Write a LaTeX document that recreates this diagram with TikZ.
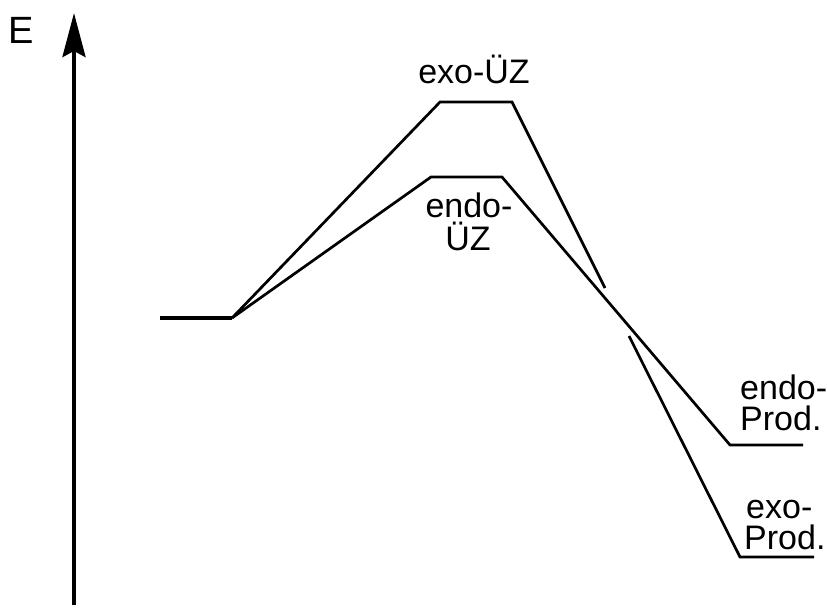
\documentclass[tikz,border=0pt]{standalone}
\usepackage{fontspec}
\setmainfont{Liberation Sans}
\usetikzlibrary{arrows.meta}
\begin{document}
\begin{tikzpicture}[x=1pt,y=-1pt,
  curve/.style={line width=2.7pt},
  lbl/.style={font=\fontsize{34}{34}\selectfont, inner sep=0pt, anchor=base},
  lblL/.style={lbl, anchor=base west}]
\useasboundingbox (0,0) rectangle (827,610);
% axis
\coordinate (ax0) at (74,605);
\coordinate (ax1) at (74,13);
\draw[line width=4pt, -{Stealth[length=44pt,width=23pt,inset=6pt]}] (ax0) -- (ax1);
\node[lbl, anchor=base west, font=\fontsize{38}{38}\selectfont] (E) at (8,44) {E};
% common start
\coordinate (s0) at (160,318);
\coordinate (s1) at (232,318);
\draw[line width=4pt] (s0) -- (s1);
% exo path
\coordinate (xa) at (440,102);
\coordinate (xb) at (512,102);
\coordinate (xg1) at (605,288);
\coordinate (xg2) at (629,336);
\coordinate (xc) at (740,557);
\coordinate (xd) at (814,557);
\draw[curve] (s1) -- (xa) -- (xb) -- (xg1);
\draw[curve] (xg2) -- (xc) -- (xd);
% endo path
\coordinate (ea) at (431,177);
\coordinate (eb) at (502,177);
\coordinate (ec) at (730,445);
\coordinate (ed) at (803,445);
\draw[curve] (s1) -- (ea) -- (eb) -- (ec) -- (ed);
% labels
\node[lbl] (exoTS) at (474,83) {exo-ÜZ};
\node[lbl] (endoTS1) at (469,217) {endo-};
\node[lbl] (endoTS2) at (468,250) {ÜZ};
\node[lblL] (endoP1) at (740,399) {endo-};
\node[lblL] (endoP2) at (740,430) {Prod.};
\node[lblL] (exoP1) at (746,518) {exo-};
\node[lblL] (exoP2) at (744,549) {Prod.};
\end{tikzpicture}
\end{document}
